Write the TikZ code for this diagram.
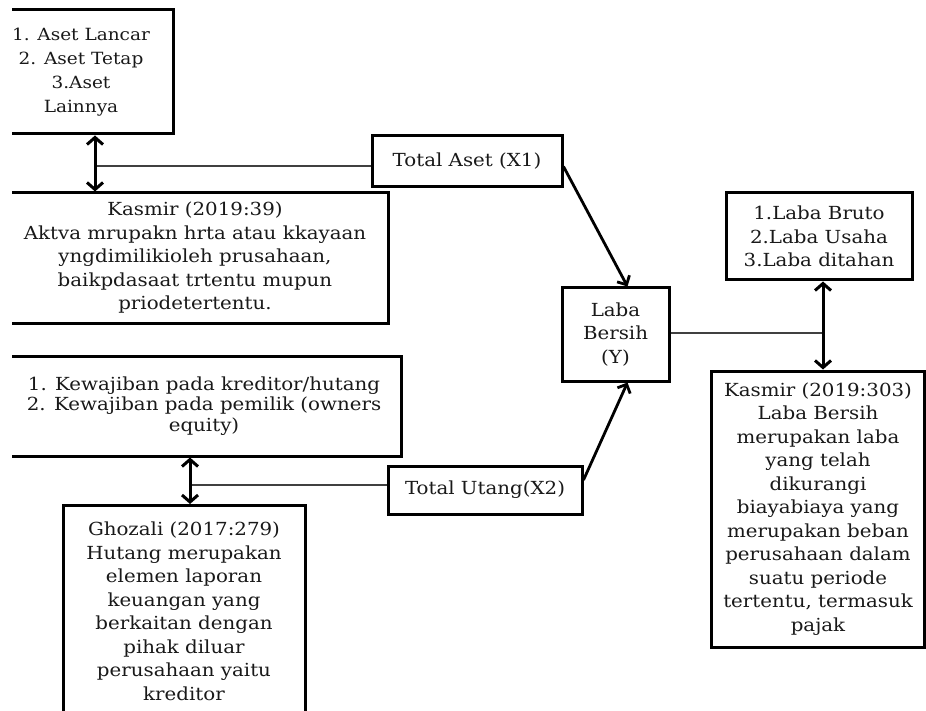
\documentclass[tikz,border=0pt]{standalone}
\usepackage{fontspec}
\setmainfont[FakeStretch=1.1]{DejaVu Serif}
\usetikzlibrary{arrows.meta}
\tikzset{
  bx/.style={draw=black, line width=3pt, align=center, inner sep=0pt,
    font=\fontsize{18}{23.5}\selectfont, text=black!90},
  dbl/.style={line width=3pt, {Straight Barb[length=7pt,width=16pt]}-{Straight Barb[length=7pt,width=16pt]}},
  arr/.style={line width=2.8pt, -{Straight Barb[length=7pt,width=14pt]}},
  thinln/.style={line width=1.5pt, draw=black!75}
}
\begin{document}
\begin{tikzpicture}[x=1pt,y=-1pt]
\useasboundingbox (0,0) rectangle (926,711);
\begin{scope}
\clip (12,0) rectangle (926,711);
\node[bx, minimum width=184pt, minimum height=124pt, font=\fontsize{16.8}{24}\selectfont] (aset) at (81,72)
  {1. Aset Lancar\\2. Aset Tetap\\3.Aset\\Lainnya};
\node[bx, minimum width=386pt, minimum height=130pt] (k39) at (195,258)
  {Kasmir (2019:39)\\Aktva mrupakn hrta atau kkayaan\\yngdimilikioleh prusahaan,\\baikpdasaat trtentu mupun\\priodetertentu.};
\node[bx, minimum width=190pt, minimum height=51pt] (tx1) at (467,161.5)
  {Total Aset (X1)};
\node[bx, minimum width=107pt, minimum height=93pt] (laba) at (615.5,334.5)
  {Laba\\Bersih\\(Y)};
\node[bx, minimum width=186pt, minimum height=87pt] (bruto) at (819,236.5)
  {1.Laba Bruto\\2.Laba Usaha\\3.Laba ditahan};
\node[bx, minimum width=213pt, minimum height=276pt] (k303) at (818,509)
  {Kasmir (2019:303)\\Laba Bersih\\merupakan laba\\yang telah\\dikurangi\\biayabiaya yang\\merupakan beban\\perusahaan dalam\\suatu periode\\tertentu, termasuk\\pajak};
\node[bx, minimum width=394pt, minimum height=100pt, font=\fontsize{18}{20.5}\selectfont] (kew) at (204,406)
  {1. Kewajiban pada kreditor/hutang\\2. Kewajiban pada pemilik (owners\\equity)};
\node[bx, minimum width=194pt, minimum height=48pt] (tx2) at (485,490)
  {Total Utang(X2)};
\node[bx, minimum width=242pt, minimum height=212pt, anchor=north] (ghz) at (184,504)
  {Ghozali (2017:279)\\Hutang merupakan\\elemen laporan\\keuangan yang\\berkaitan dengan\\pihak diluar\\perusahaan yaitu\\kreditor};
\end{scope}
\coordinate (ca) at (95,166);
\coordinate (cb) at (823,333);
\coordinate (cc) at (190,485);
\draw[thinln] (ca) -- (ca -| tx1.west);
\draw[dbl] (ca |- aset.south) -- (ca |- k39.north);
\draw[thinln] (laba.east |- cb) -- (cb);
\draw[dbl] (cb |- bruto.south) -- (cb |- k303.north);
\draw[thinln] (cc) -- (cc -| tx2.west);
\draw[dbl] (cc |- kew.south) -- (cc |- ghz.north);
\draw[arr] ([yshift=-5pt]tx1.east) -- ([xshift=12pt]laba.north);
\draw[arr] ([yshift=10pt]tx2.east) -- ([xshift=12pt]laba.south);
\end{tikzpicture}
\end{document}
